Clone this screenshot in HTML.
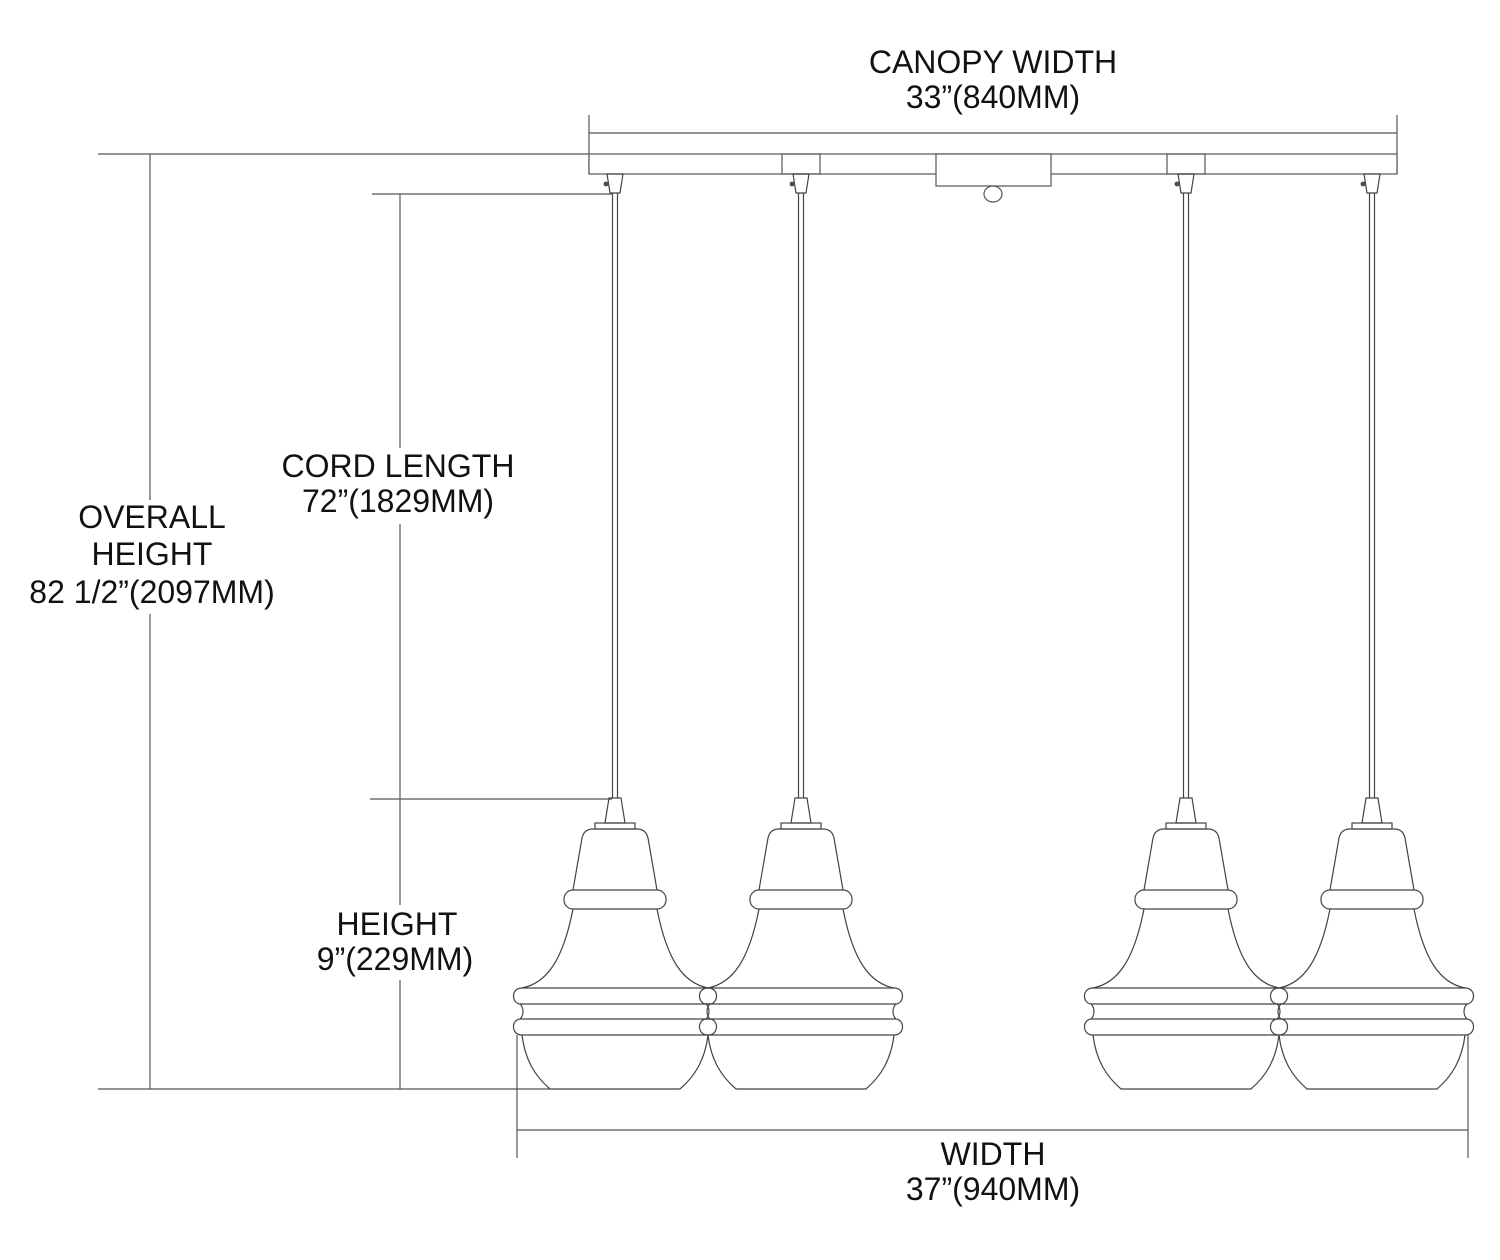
<!DOCTYPE html>
<html><head><meta charset="utf-8"><style>
html,body{margin:0;padding:0;background:#fff;}
svg{display:block;}
text{font-family:"Liberation Sans",Arial,sans-serif;font-size:32px;fill:#111;text-anchor:middle;}
</style></head><body>
<svg width="1500" height="1260" viewBox="0 0 1500 1260" xmlns="http://www.w3.org/2000/svg">
<defs>
<g id="lamp" fill="none" stroke="#444" stroke-width="1.2">
  <path d="M-8,174 L8,174 L5,193 L-5,193 Z"/>
  <circle cx="-9" cy="184" r="1.8" fill="#555"/>
  <line x1="-2.5" y1="193" x2="-2.5" y2="798"/>
  <line x1="2.5" y1="193" x2="2.5" y2="798"/>
  <path d="M-6,798 L6,798 L10,823 L-10,823 Z"/>
  <rect x="-20" y="823" width="40" height="6"/>
  <path d="M-42,890 L-33,838 Q-31,829 -22,829 L22,829 Q31,829 33,838 L42,890"/>
  <rect x="-51" y="890" width="102" height="19" rx="9"/>
  <path d="M-42,909 C-52,960 -68,983 -93,988"/>
  <path d="M42,909 C52,960 68,983 93,988"/>
  <line x1="-93" y1="988" x2="93" y2="988"/>
  <line x1="-95" y1="1004" x2="95" y2="1004"/>
  <line x1="-95" y1="1019" x2="95" y2="1019"/>
  <line x1="-93" y1="1035" x2="93" y2="1035"/>
  <path d="M-93,988 C-104,988 -104,1003 -95,1004 C-91,1008 -91,1015 -95,1019 C-104,1020 -104,1035 -93,1035"/>
  <path d="M93,988 C104,988 104,1003 95,1004 C91,1008 91,1015 95,1019 C104,1020 104,1035 93,1035"/>
  <path d="M-93,1035 C-90,1060 -80,1076 -65,1089 L65,1089 C80,1076 90,1060 93,1035"/>
</g>
</defs>
<g stroke="#555" stroke-width="1.2" fill="none">
  <line x1="589" y1="115" x2="589" y2="174"/>
  <line x1="1397" y1="115" x2="1397" y2="174"/>
  <line x1="589" y1="133" x2="1397" y2="133"/>
  <rect x="589" y="154" width="808" height="20" fill="#fff"/>
  <rect x="782" y="154" width="38" height="20"/>
  <rect x="1167" y="154" width="38" height="20"/>
  <rect x="936" y="154" width="115" height="32" fill="#fff"/>
  <ellipse cx="993" cy="194" rx="9" ry="8"/>
  <line x1="98" y1="154" x2="589" y2="154"/>
  <line x1="98" y1="1089" x2="550" y2="1089"/>
  <line x1="150" y1="154" x2="150" y2="500"/>
  <line x1="150" y1="614" x2="150" y2="1089"/>
  <line x1="372" y1="194" x2="612" y2="194"/>
  <line x1="370" y1="799" x2="612" y2="799"/>
  <line x1="400" y1="194" x2="400" y2="448"/>
  <line x1="400" y1="524" x2="400" y2="905"/>
  <line x1="400" y1="980" x2="400" y2="1089"/>
  <line x1="517" y1="1035" x2="517" y2="1158"/>
  <line x1="1468" y1="1035" x2="1468" y2="1158"/>
  <line x1="517" y1="1130" x2="1468" y2="1130"/>
</g>
<use href="#lamp" x="615"/>
<use href="#lamp" x="801"/>
<use href="#lamp" x="1186"/>
<use href="#lamp" x="1372"/>
<text x="993" y="73">CANOPY WIDTH</text>
<text x="993" y="108">33”(840MM)</text>
<text x="398" y="477">CORD LENGTH</text>
<text x="398" y="512">72”(1829MM)</text>
<text x="152" y="528">OVERALL</text>
<text x="152" y="565">HEIGHT</text>
<text x="152" y="603">82 1/2”(2097MM)</text>
<text x="397" y="935">HEIGHT</text>
<text x="395" y="970">9”(229MM)</text>
<text x="993" y="1165">WIDTH</text>
<text x="993" y="1200">37”(940MM)</text>
</svg>
</body></html>
